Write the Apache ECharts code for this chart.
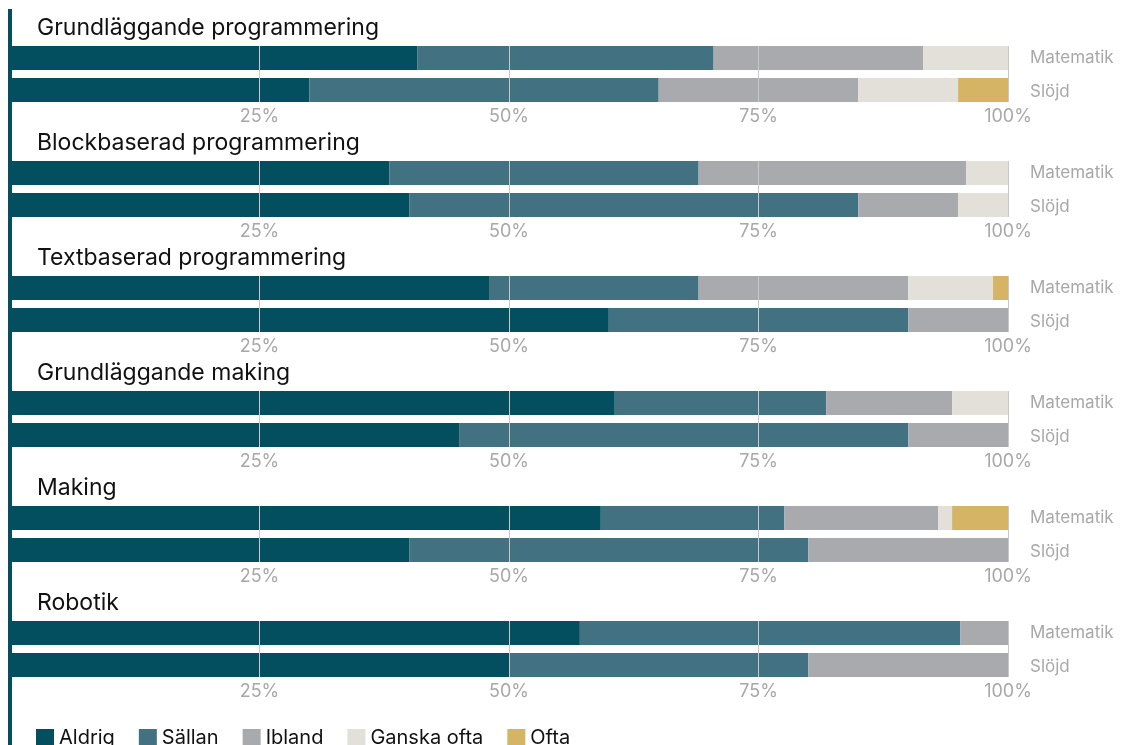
<!DOCTYPE html>
<html>
<head>
<meta charset="utf-8">
<script src="https://cdn.jsdelivr.net/npm/echarts@6/dist/echarts.min.js"></script>
<style>
  html, body { margin: 0; padding: 0; background: #ffffff; }
  #chart { width: 1127px; height: 745px; }
</style>
</head>
<body>
<div id="chart"></div>
<script>
// Activities, one panel each
const panels = [
  'Grundläggande programmering',
  'Blockbaserad programmering',
  'Textbaserad programmering',
  'Grundläggande making',
  'Making',
  'Robotik'
];
const subjects = ['Matematik', 'Slöjd'];
const levels = ['Aldrig', 'Sällan', 'Ibland', 'Ganska ofta', 'Ofta'];
const tickValues = [25, 50, 75, 100];

// Share of answers (%), per panel: [Matematik, Slöjd]
const aldrig     = [[40.8, 30], [38, 40], [48, 60], [60.6, 45], [59.2, 40], [57.1, 50]];
const sallan     = [[29.7, 35], [31, 45], [21, 30], [21.2, 45], [18.4, 40], [38.1, 30]];
const ibland     = [[21, 20],   [26.8, 10], [21, 10], [12.6, 10], [15.4, 20], [4.8, 20]];
const ganskaOfta = [[8.5, 10],  [4.2, 5],  [8.5, 0], [5.6, 0],  [1.4, 0],  [0, 0]];
const ofta       = [[0, 5],     [0, 0],    [1.5, 0], [0, 0],    [5.6, 0],  [0, 0]];

const levelValues = [aldrig, sallan, ibland, ganskaOfta, ofta];
const colors = ['#034f5f', '#427282', '#a9aaad', '#e3e0d9', '#d5b466'];

const FONT = 'Inter, "Noto Sans", sans-serif';
const LEFT = 10, PLOT_W = 998, STEP = 115, FIRST_TOP = 42, GRID_H = 64;

const grids = [], xAxes = [], yAxes = [], series = [], graphics = [];

panels.forEach((title, i) => {
  const top = FIRST_TOP + STEP * i;
  grids.push({ left: LEFT, top: top, width: PLOT_W, height: GRID_H });
  xAxes.push({
    gridIndex: i, type: 'value', min: 0, max: 100, interval: 25,
    offset: -4, z: 10,
    axisLine: { show: false },
    splitLine: { show: false },
    axisTick: { show: true, inside: true, length: GRID_H - 8,
                lineStyle: { color: '#c9c9c9', width: 1 } },
    axisLabel: {
      margin: 6, color: '#a8a8a8', fontSize: 18, fontFamily: FONT,
      formatter: v => (tickValues.indexOf(v) >= 0 ? v + '%' : '')
    }
  });
  yAxes.push({
    gridIndex: i, type: 'category', data: subjects, inverse: true, position: 'right',
    axisLine: { show: false }, axisTick: { show: false },
    axisLabel: {
      margin: 22, color: '#a8a8a8', fontSize: 17, fontFamily: FONT,
      formatter: v => (v === 'Slöjd' ? '{low|' + v + '}' : v),
      rich: { low: { color: '#a8a8a8', fontSize: 17, fontFamily: FONT, padding: [4, 0, 0, 0] } }
    }
  });
  levels.forEach((lvl, k) => {
    series.push({
      name: lvl, type: 'bar', stack: 'panel' + i,
      xAxisIndex: i, yAxisIndex: i, barWidth: 24,
      itemStyle: { color: colors[k] },
      emphasis: { disabled: true },
      data: levelValues[k][i]
    });
  });
  graphics.push({
    type: 'text', left: 37, top: top - 25,
    style: { text: title, fill: '#111111', font: '23px ' + FONT }
  });
});

graphics.push({
  type: 'rect', z: 100,
  shape: { x: 8, y: 9, width: 4, height: 736 },
  style: { fill: '#034f5f' }
});

const chart = echarts.init(document.getElementById('chart'), null, { renderer: 'canvas' });
chart.setOption({
  animation: false,
  color: colors,
  grid: grids,
  xAxis: xAxes,
  yAxis: yAxes,
  series: series,
  graphic: graphics,
  legend: {
    data: levels, left: 31, top: 723,
    icon: 'rect', itemWidth: 18, itemHeight: 18, itemGap: 24,
    textStyle: { color: '#111111', fontSize: 20, fontFamily: FONT }
  }
});
</script>
</body>
</html>
